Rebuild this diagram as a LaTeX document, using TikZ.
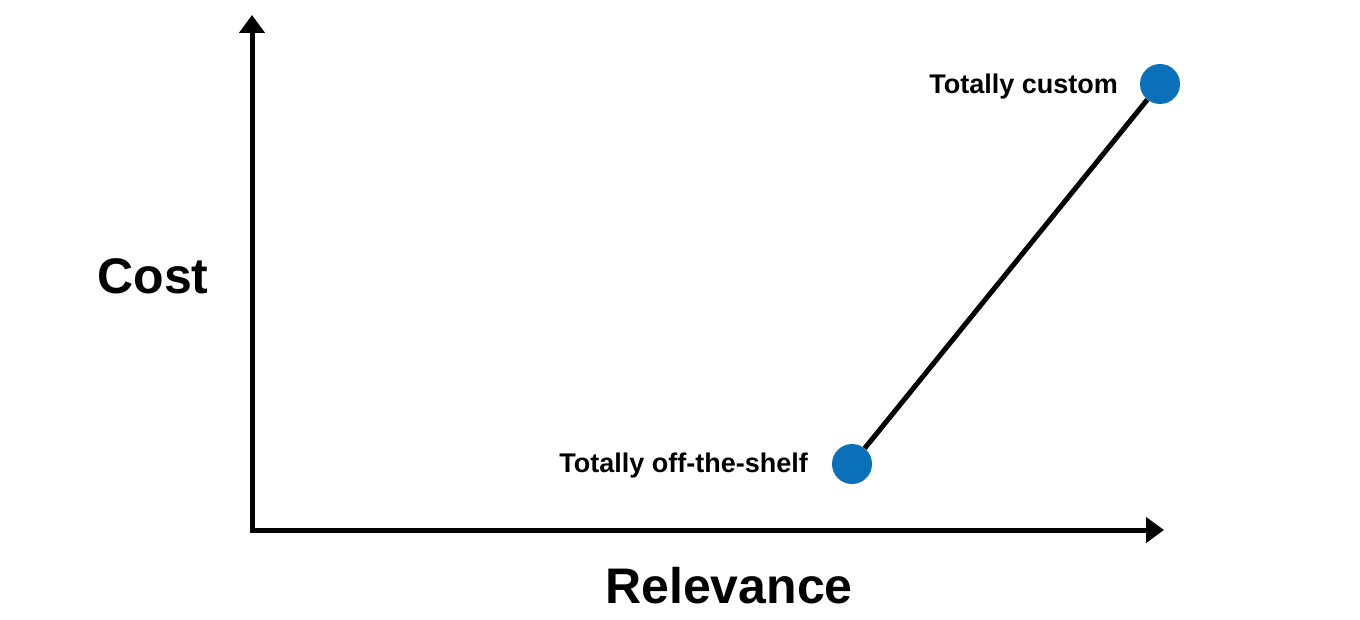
\documentclass[tikz,border=0pt]{standalone}
\usepackage{fontspec}
\setmainfont{Liberation Sans}
\usetikzlibrary{arrows.meta}
\definecolor{dotblue}{RGB}{10,112,186}
\begin{document}
\begin{tikzpicture}[x=1pt,y=-1pt,
  axis/.style={line width=5pt,-{Triangle[length=18pt,width=25pt]}},
  dot/.style={circle,fill=dotblue,minimum size=40pt,inner sep=0pt},
  lbl/.style={font=\bfseries\fontsize{27}{32}\selectfont,inner sep=0pt},
  big/.style={font=\bfseries\fontsize{50}{58}\selectfont,inner sep=0pt}]
\useasboundingbox (0,0) rectangle (1360,620);
\coordinate (o) at (252,530);
\coordinate (ytop) at (252,15);
\coordinate (xend) at (1164,530);
\draw[axis] ([yshift=-2.5pt]o) -- (ytop);
\draw[axis] ([xshift=-2.5pt]o) -- (xend);
\node[dot] (a) at (852,464) {};
\node[dot] (b) at (1160,84) {};
\draw[line width=5pt] (a) -- (b);
\node[lbl,anchor=east] (la) at (808,466) {Totally off-the-shelf};
\node[lbl,anchor=east] (lb) at (1118,87) {Totally custom};
\node[big] (cost) at (153,276) {Cost};
\node[big] (rel) at (729,586) {Relevance};
\end{tikzpicture}
\end{document}
